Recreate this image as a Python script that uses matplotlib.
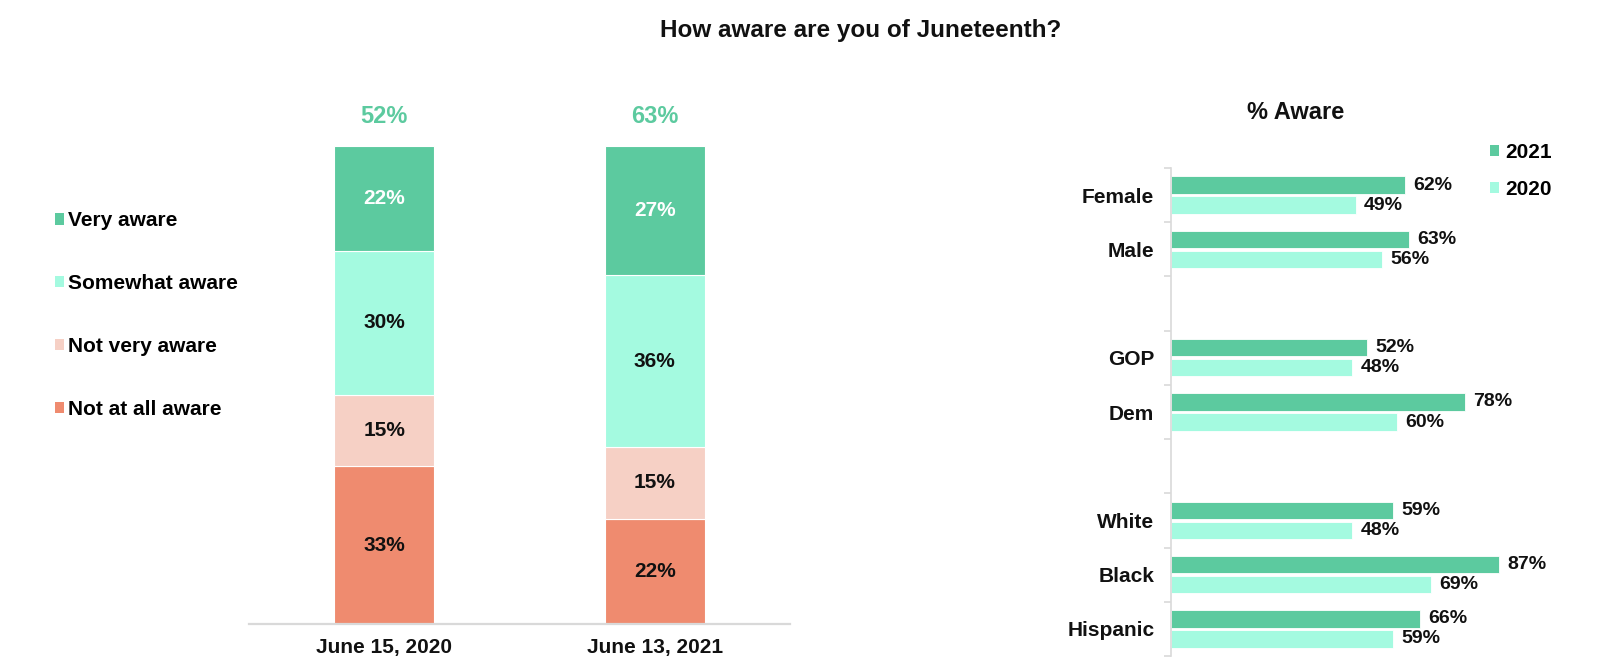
#!/usr/bin/env python3
"""Juneteenth awareness: stacked bars by survey date + % aware by group."""

import matplotlib
matplotlib.use("Agg")
import matplotlib.pyplot as plt
from matplotlib.patches import Patch
import numpy as np

plt.rcParams["font.family"] = ["Liberation Sans", "DejaVu Sans"]
plt.rcParams["font.weight"] = "bold"

# ---- data ---------------------------------------------------------------
survey_dates = ["June 15, 2020", "June 13, 2021"]
levels = ["Very aware", "Somewhat aware", "Not very aware", "Not at all aware"]
# shares per level, one value per survey date
very_aware = [22, 27]
somewhat_aware = [30, 36]
not_very_aware = [15, 15]
not_at_all_aware = [33, 22]
total_aware = [52, 63]

# % aware by demographic, grouped (blank row between groups)
demo_groups = [["Female", "Male"], ["GOP", "Dem"], ["White", "Black", "Hispanic"]]
aware_2021 = [62, 63, 52, 78, 59, 87, 66]
aware_2020 = [49, 56, 48, 60, 48, 69, 59]

# ---- styling --------------------------------------------------------------
DARK_GREEN = "#5CCA9F"
MINT = "#A4FAE0"
PINK = "#F6D0C5"
SALMON = "#EF8B6F"
AXIS_GREY = "#D9D9D9"
TEXT = "#111111"

W, H = 1599, 659
fig = plt.figure(figsize=(W / 100, H / 100), dpi=100)

fig.text(861 / W, 1 - 30 / H, "How aware are you of Juneteenth?",
         ha="center", va="center", fontsize=17.5, fontweight="bold", color=TEXT)

# ---- left: stacked bars ---------------------------------------------------
ax1 = fig.add_axes([249 / W, 1 - 624 / H, 541 / W, (624 - 146) / H])
x = np.arange(len(survey_dates))
bar_w = 0.37

stack = [
    (not_at_all_aware, SALMON, TEXT),
    (not_very_aware, PINK, TEXT),
    (somewhat_aware, MINT, TEXT),
    (very_aware, DARK_GREEN, "white"),
]
bottom = np.zeros(len(x))
for vals, color, txt_color in stack:
    vals = np.asarray(vals, dtype=float)
    bars = ax1.bar(x, vals, bar_w, bottom=bottom, color=color,
                   edgecolor="white", linewidth=0.8)
    for b, v, b0 in zip(bars, vals, bottom):
        ax1.text(b.get_x() + b.get_width() / 2, b0 + v / 2, f"{v:.0f}%",
                 ha="center", va="center", fontsize=15,
                 fontweight="bold", color=txt_color)
    bottom += vals

for xi, tot, top in zip(x, total_aware, bottom):
    ax1.annotate(f"{tot}%", (xi, top), xytext=(0, 21.5), textcoords="offset points",
                 ha="center", va="center", fontsize=17, fontweight="bold",
                 color=DARK_GREEN, annotation_clip=False)

ax1.set_xlim(-0.5, 1.5)
ax1.set_ylim(0, 100)
ax1.set_xticks(x)
ax1.set_xticklabels(survey_dates, fontsize=15, fontweight="bold", color=TEXT)
ax1.set_yticks([])
ax1.tick_params(axis="x", length=0, pad=10)
for side in ["top", "right", "left"]:
    ax1.spines[side].set_visible(False)
ax1.spines["bottom"].set_color(AXIS_GREY)
ax1.spines["bottom"].set_linewidth(1.6)

legend_colors = [DARK_GREEN, MINT, PINK, SALMON]
handles = [Patch(facecolor=c, edgecolor="none", label=l)
           for c, l in zip(legend_colors, levels)]
fig.legend(handles=handles, loc="center left",
           bbox_to_anchor=(55 / W, 1 - 315 / H), frameon=False,
           handlelength=0.45, handleheight=0.45,
           handletextpad=0.18, labelspacing=2.1, borderpad=0, borderaxespad=0,
           prop={"weight": "bold", "size": 15})

# ---- right: % aware by group ----------------------------------------------
ax2 = fig.add_axes([1171 / W, 1 - 656 / H, 377 / W, (656 - 168) / H])

labels, rows = [], []
row = 0
for grp in demo_groups:
    for name in grp:
        labels.append(name)
        rows.append(row)
        row += 1
    row += 1
rows = np.array(rows, dtype=float)
n_slots = row - 1

bh = 0.32
off = 0.185
bars21 = ax2.barh(rows - off, aware_2021, bh, color=DARK_GREEN,
                  edgecolor="white", linewidth=0.6, label="2021")
bars20 = ax2.barh(rows + off, aware_2020, bh, color=MINT,
                  edgecolor="white", linewidth=0.6, label="2020")
for bars, vals in [(bars21, aware_2021), (bars20, aware_2020)]:
    for b, v in zip(bars, vals):
        ax2.annotate(f"{v}%", (v, b.get_y() + b.get_height() / 2),
                     xytext=(6, 0), textcoords="offset points",
                     ha="left", va="center", fontsize=14,
                     fontweight="bold", color=TEXT, annotation_clip=False)

ax2.set_xlim(0, 100)
ax2.set_ylim(n_slots - 0.5, -0.5)
ax2.set_xticks([])
ax2.set_yticks(rows)
ax2.set_yticklabels(labels, fontsize=15, fontweight="bold", color=TEXT)
ax2.set_yticks(np.arange(-0.5, n_slots, 1.0), minor=True)
ax2.tick_params(axis="y", which="major", length=0, pad=12)
ax2.tick_params(axis="y", which="minor", length=5, width=1.2,
                color=AXIS_GREY, direction="out")
for side in ["top", "right", "bottom"]:
    ax2.spines[side].set_visible(False)
ax2.spines["left"].set_color(AXIS_GREY)
ax2.spines["left"].set_linewidth(1.2)

ax2.set_title("% Aware", fontsize=17, fontweight="bold", color=TEXT,
              x=(1296 - 1171) / 377, pad=35)

fig.legend(handles=[Patch(facecolor=DARK_GREEN, label="2021"),
                    Patch(facecolor=MINT, label="2020")],
           loc="center left", bbox_to_anchor=(1490 / W, 1 - 171 / H),
           frameon=False, handlelength=0.45, handleheight=0.45,
           handletextpad=0.3, labelspacing=0.85, borderpad=0, borderaxespad=0,
           prop={"weight": "bold", "size": 15})

fig.savefig("out.png", dpi=100)
